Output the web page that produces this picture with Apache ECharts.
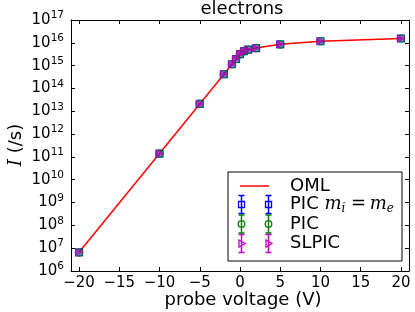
<!DOCTYPE html>
<html><head><meta charset="utf-8">
<script src="https://cdn.jsdelivr.net/npm/echarts@6/dist/echarts.min.js"></script>
<style>html,body{margin:0;padding:0;background:#fff}#c{width:415px;height:312px}</style>
</head><body><div id="c"></div>
<script>
// probe voltage (V)
const voltage = [-20, -10, -5, -2, -1, -0.5, 0, 0.5, 1, 2, 5, 10, 20];
// electron current I (/s)
const omlCurrent = [6.6e6, 1.4e11, 2.1e13, 4.2e14, 1.15e15, 1.95e15, 3.2e15, 4.3e15, 5.0e15, 5.9e15, 8.6e15, 1.17e16, 1.55e16];
const picEqualMassCurrent = [6.6e6, 1.4e11, 2.1e13, 4.2e14, 1.15e15, 1.95e15, 3.2e15, 4.3e15, 5.0e15, 5.9e15, 8.6e15, 1.17e16, 1.55e16];
const picCurrent = [6.6e6, 1.4e11, 2.1e13, 4.2e14, 1.15e15, 1.95e15, 3.2e15, 4.3e15, 5.0e15, 5.9e15, 8.6e15, 1.17e16, 1.55e16];
const slpicCurrent = [6.6e6, 1.4e11, 2.1e13, 4.2e14, 1.15e15, 1.95e15, 3.2e15, 4.3e15, 5.0e15, 5.9e15, 8.6e15, 1.17e16, 1.55e16];
const xTicks = [-20, -15, -10, -5, 0, 5, 10, 15, 20];
const yTicks = [1e6, 1e7, 1e8, 1e9, 1e10, 1e11, 1e12, 1e13, 1e14, 1e15, 1e16, 1e17];

const FONT = 'DejaVu Sans';
const pairs = a => voltage.map((v, i) => [v, a[i]]);
const fmtX = v => (v < 0 ? '\u2212' + Math.abs(v) : String(v));
const fmtY = v => '{b|10}{s|' + Math.round(Math.log10(v)) + '}';

const tickCommon = { show: true, inside: true, length: 4, lineStyle: { color: '#000', width: 1 } };
const lineCommon = { show: true, onZero: false, lineStyle: { color: '#000', width: 1 } };

const chart = echarts.init(document.getElementById('c'), null, { renderer: 'canvas' });
const legX = 228, legY = 172;
const g = [];
g.push({ type: 'rect', shape: { x: legX, y: legY, width: 174, height: 89 }, style: { fill: '#fff', stroke: '#000', lineWidth: 1 }, z: 100 });
g.push({ type: 'line', shape: { x1: 240, y1: 186, x2: 269, y2: 186 }, style: { stroke: '#ff0000', lineWidth: 1.5 }, z: 101 });
const rows = [
  { y: 204.5, c: '#0000ff', sym: 'square' },
  { y: 224, c: '#008000', sym: 'circle' },
  { y: 243.5, c: '#bf00bf', sym: 'tri' }
];
rows.forEach(r => {
  [241.5, 268.5].forEach(x => {
    g.push({ type: 'line', shape: { x1: x, y1: r.y - 9, x2: x, y2: r.y + 9 }, style: { stroke: r.c, lineWidth: 1.5 }, z: 101 });
    g.push({ type: 'line', shape: { x1: x - 3, y1: r.y - 9, x2: x + 3, y2: r.y - 9 }, style: { stroke: r.c, lineWidth: 1.5 }, z: 101 });
    g.push({ type: 'line', shape: { x1: x - 3, y1: r.y + 9, x2: x + 3, y2: r.y + 9 }, style: { stroke: r.c, lineWidth: 1.5 }, z: 101 });
    if (r.sym === 'square') g.push({ type: 'rect', shape: { x: x - 3, y: r.y - 3, width: 6, height: 6 }, style: { fill: 'none', stroke: r.c, lineWidth: 1.3 }, z: 102 });
    if (r.sym === 'circle') g.push({ type: 'circle', shape: { cx: x, cy: r.y, r: 3.3 }, style: { fill: 'none', stroke: r.c, lineWidth: 1.3 }, z: 102 });
    if (r.sym === 'tri') g.push({ type: 'polygon', shape: { points: [[x - 2.5, r.y - 3.5], [x + 3.5, r.y], [x - 2.5, r.y + 3.5]] }, style: { fill: 'none', stroke: r.c, lineWidth: 1.3 }, z: 102 });
  });
});
const LF = 18;
const legTextStyle = { fontFamily: FONT, fontSize: LF, fill: '#000', verticalAlign: 'middle' };
g.push({ type: 'text', x: 290, y: 186, style: Object.assign({ text: 'OML' }, legTextStyle), z: 103 });
g.push({ type: 'text', x: 290, y: 204.5, style: Object.assign({
  text: 'PIC {m|m}{sub|i}{eq| =\u2009}{m|m}{sub|e}',
  rich: {
    m: { fontFamily: 'DejaVu Serif', fontStyle: 'italic', fontSize: LF, fill: '#000' },
    sub: { fontFamily: 'DejaVu Serif', fontStyle: 'italic', fontSize: 12, fill: '#000', padding: [9, 0, 0, 0] },
    eq: { fontFamily: 'DejaVu Serif', fontSize: LF, fill: '#000' }
  }
}, legTextStyle), z: 103 });
g.push({ type: 'text', x: 290, y: 224, style: Object.assign({ text: 'PIC' }, legTextStyle), z: 103 });
g.push({ type: 'text', x: 290, y: 243.5, style: Object.assign({ text: 'SLPIC' }, legTextStyle), z: 103 });
g.push({ type: 'text', x: 242, y: 9, style: { text: 'electrons', fontFamily: FONT, fontSize: 18, fill: '#000', align: 'center', verticalAlign: 'middle' } });
g.push({ type: 'text', x: 243, y: 300, style: { text: 'probe voltage (V)', fontFamily: FONT, fontSize: 18, fill: '#000', align: 'center', verticalAlign: 'middle' } });
g.push({ type: 'text', x: 16, y: 145, rotation: Math.PI / 2, style: {
  text: '{i|I} (/s)', fontFamily: FONT, fontSize: 18, fill: '#000', align: 'center', verticalAlign: 'middle',
  rich: { i: { fontFamily: 'DejaVu Serif', fontStyle: 'italic', fontSize: 18, fill: '#000' } }
} });

const option = {
  animation: false,
  backgroundColor: '#fff',
  grid: { left: 71, right: 6, top: 20, bottom: 41, containLabel: false },
  xAxis: [
    { type: 'value', min: -21, max: 21, position: 'bottom',
      axisLine: lineCommon, splitLine: { show: false },
      axisTick: Object.assign({ customValues: xTicks }, tickCommon),
      axisLabel: { customValues: xTicks, formatter: fmtX, fontFamily: FONT, fontSize: 15, color: '#000', margin: 5 } },
    { type: 'value', min: -21, max: 21, position: 'top',
      axisLine: lineCommon, splitLine: { show: false },
      axisTick: Object.assign({ customValues: xTicks }, tickCommon),
      axisLabel: { show: false } }
  ],
  yAxis: [
    { type: 'log', logBase: 10, min: 1e6, max: 1e17, position: 'left',
      axisLine: lineCommon, splitLine: { show: false }, minorTick: { show: false },
      axisTick: Object.assign({ customValues: yTicks }, tickCommon),
      axisLabel: { customValues: yTicks, formatter: fmtY, margin: 7, color: '#000',
        rich: { b: { fontFamily: FONT, fontSize: 15, color: '#000' },
                s: { fontFamily: FONT, fontSize: 10.5, color: '#000', padding: [0, 0, 9, 0] } } } },
    { type: 'log', logBase: 10, min: 1e6, max: 1e17, position: 'right',
      axisLine: lineCommon, splitLine: { show: false },
      axisTick: Object.assign({ customValues: yTicks }, tickCommon),
      axisLabel: { show: false } }
  ],
  graphic: g,
  series: [
    { name: 'OML', type: 'line', data: pairs(omlCurrent), showSymbol: false, symbol: 'none',
      lineStyle: { color: '#ff0000', width: 1.5 }, z: 2 },
    { name: 'PIC mi=me', type: 'scatter', data: pairs(picEqualMassCurrent), symbol: 'rect', symbolSize: 7,
      itemStyle: { color: 'rgba(0,0,255,0.5)', borderColor: '#0000ff', borderWidth: 1.2 }, z: 3 },
    { name: 'PIC', type: 'scatter', data: pairs(picCurrent), symbol: 'circle', symbolSize: 7.5,
      itemStyle: { color: 'rgba(0,128,0,0.3)', borderColor: '#008000', borderWidth: 1.2 }, z: 4 },
    { name: 'SLPIC', type: 'scatter', data: pairs(slpicCurrent), symbol: 'triangle', symbolRotate: -90, symbolSize: 7,
      itemStyle: { color: 'rgba(191,0,191,0.75)', borderColor: '#bf00bf', borderWidth: 1 }, z: 5 }
  ]
};
chart.setOption(option);
</script></body></html>
